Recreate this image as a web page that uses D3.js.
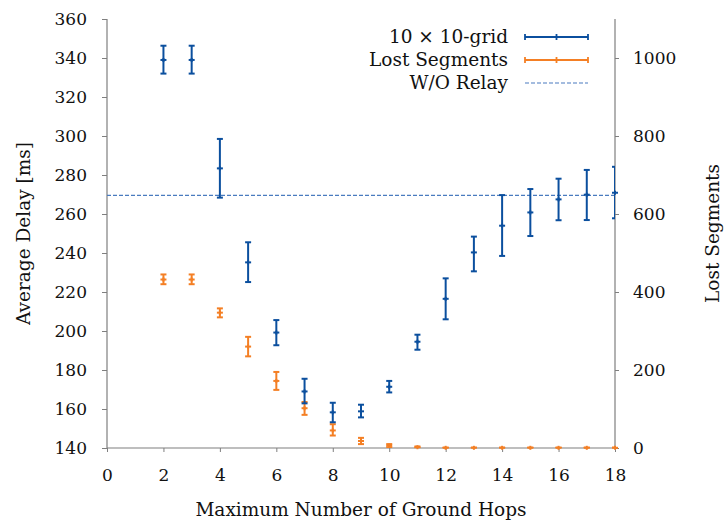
<!DOCTYPE html>
<html>
<head>
<meta charset="utf-8">
<script src="https://cdn.jsdelivr.net/npm/d3@7"></script>
<style>
  body { margin: 0; background: #fff; }
  text { font-family: "DejaVu Serif", "Liberation Serif", serif; fill: #111; }
</style>
</head>
<body>
<div id="chart"></div>
<script>
// hops on the x axis
var hops = [2, 3, 4, 5, 6, 7, 8, 9, 10, 11, 12, 13, 14, 15, 16, 17, 18];

// average delay [ms] of the 10x10 grid (mean, lower, upper)
var delayMean = [339, 339, 283.4, 235.2, 199.2, 169, 158.3, 158.8, 171.4, 194.5, 216.5, 240.3, 254, 260.8, 267.5, 269.9, 270.9];
var delayLow  = [332, 332, 268.4, 225.1, 192.7, 162.9, 153.2, 155.7, 168.5, 190.4, 206, 230.6, 238.5, 248.7, 256.8, 256.9, 257.8];
var delayHigh = [346.3, 346.3, 298.5, 245.5, 205.6, 175.5, 163.2, 162.2, 174.4, 198.1, 227, 248.4, 269.7, 272.8, 278.1, 282.6, 284.2];

// lost segments (mean, lower, upper)
var lostMean = [432, 432, 347, 260, 172, 102, 45, 18, 6, 2, 0.5, 0.5, 0.5, 0.5, 0.5, 0.5, 0.5];
var lostLow  = [420, 420, 335, 235, 149, 85, 32, 10, 2, 0, 0, 0, 0, 0, 0, 0, 0];
var lostHigh = [445, 445, 358, 285, 195, 118, 61, 26, 10, 4, 1, 1, 1, 1, 1, 1, 1];

// delay without relay
var noRelayDelay = 269.6;

var xTicks = [0, 2, 4, 6, 8, 10, 12, 14, 16, 18];
var leftTicks = [140, 160, 180, 200, 220, 240, 260, 280, 300, 320, 340, 360];
var rightTicks = [0, 200, 400, 600, 800, 1000];

var legendLabels = ["10 \u00d7 10-grid", "Lost Segments", "W/O Relay"];

var blue = "#0b4f9e";
var orange = "#f47f24";
var dashBlue = "#4a7bbf";
var axisGray = "#7f7f7f";
var tickSize = "17px";
var labelSize = "18.5px";

var W = 725, H = 520;
var margin = {top: 19, right: 110, bottom: 72, left: 107};
var width = W - margin.left - margin.right;
var height = H - margin.top - margin.bottom;

var svg = d3.select("#chart").append("svg")
  .attr("width", W)
  .attr("height", H);

var g = svg.append("g")
  .attr("transform", "translate(" + margin.left + "," + margin.top + ")");

var x = d3.scaleLinear().domain([0, 18]).range([0, width]);
var yL = d3.scaleLinear().domain([140, 360]).range([height, 0]);
var yR = d3.scaleLinear().domain([0, 1100]).range([height, 0]);

g.append("clipPath").attr("id", "clip")
  .append("rect").attr("width", width).attr("height", height + 2).attr("y", -2);

// axes
var xAxis = g.append("g")
  .attr("transform", "translate(0," + height + ")")
  .call(d3.axisBottom(x).tickValues(xTicks).tickSize(4).tickPadding(17));

var leftAxis = g.append("g")
  .call(d3.axisLeft(yL).tickValues(leftTicks).tickSize(5).tickPadding(15));

var rightAxis = g.append("g")
  .attr("transform", "translate(" + width + ",0)")
  .call(d3.axisRight(yR).tickValues(rightTicks).tickFormat(d3.format("d")).tickSize(4).tickPadding(14));

[xAxis, leftAxis, rightAxis].forEach(function(a) {
  a.attr("font-family", null);
  a.select(".domain").attr("stroke", axisGray).attr("stroke-width", 1.2);
  a.selectAll(".tick line").attr("stroke", axisGray).attr("stroke-width", 1);
  a.selectAll("text").style("font-size", tickSize).attr("fill", "#111");
});
// y domain lines without the d3 end caps
leftAxis.select(".domain").attr("d", "M0,0V" + height);
rightAxis.select(".domain").attr("d", "M0,0V" + height);
xAxis.select(".domain").attr("d", "M0,0H" + width);

// axis labels
svg.append("text")
  .attr("x", margin.left + width / 2)
  .attr("y", 516)
  .attr("text-anchor", "middle")
  .style("font-size", labelSize)
  .text("Maximum Number of Ground Hops");

svg.append("text")
  .attr("transform", "translate(30," + (margin.top + height / 2) + ") rotate(-90)")
  .attr("text-anchor", "middle")
  .style("font-size", labelSize)
  .text("Average Delay [ms]");

svg.append("text")
  .attr("transform", "translate(719," + (margin.top + height / 2) + ") rotate(-90)")
  .attr("text-anchor", "middle")
  .style("font-size", labelSize)
  .text("Lost Segments");

// without relay reference line
g.append("line")
  .attr("x1", 0).attr("x2", width)
  .attr("y1", yL(noRelayDelay)).attr("y2", yL(noRelayDelay))
  .attr("stroke", dashBlue).attr("stroke-width", 1.2)
  .attr("stroke-dasharray", "4,2");

function errorBars(mean, low, high, y, color) {
  var grp = g.append("g");
  var bars = grp.append("g").attr("clip-path", "url(#clip)");
  hops.forEach(function(h, i) {
    var cx = x(h);
    bars.append("line")
      .attr("x1", cx).attr("x2", cx)
      .attr("y1", y(low[i])).attr("y2", y(high[i]))
      .attr("stroke", color).attr("stroke-width", 2);
    [low[i], high[i]].forEach(function(v) {
      bars.append("line")
        .attr("x1", cx - 3).attr("x2", cx + 3)
        .attr("y1", y(v)).attr("y2", y(v))
        .attr("stroke", color).attr("stroke-width", 2);
    });
    // mean marker
    grp.append("line")
      .attr("x1", cx - 3).attr("x2", cx + 3)
      .attr("y1", y(mean[i])).attr("y2", y(mean[i]))
      .attr("stroke", color).attr("stroke-width", 2);
    grp.append("line")
      .attr("x1", cx).attr("x2", cx)
      .attr("y1", y(mean[i]) - 2).attr("y2", y(mean[i]) + 2)
      .attr("stroke", color).attr("stroke-width", 2);
  });
}

errorBars(lostMean, lostLow, lostHigh, yR, orange);
errorBars(delayMean, delayLow, delayHigh, yL, blue);

// legend
var legend = svg.append("g");
var legendColors = [blue, orange, dashBlue];
legendLabels.forEach(function(lab, i) {
  var ly = 37 + i * 23;
  legend.append("text")
    .attr("x", 508).attr("y", ly + 6)
    .attr("text-anchor", "end")
    .style("font-size", labelSize)
    .text(lab);
  if (i < 2) {
    legend.append("line")
      .attr("x1", 525).attr("x2", 588).attr("y1", ly).attr("y2", ly)
      .attr("stroke", legendColors[i]).attr("stroke-width", 1.8);
    [525, 556.5, 588].forEach(function(lx) {
      legend.append("line")
        .attr("x1", lx).attr("x2", lx).attr("y1", ly - 3).attr("y2", ly + 3)
        .attr("stroke", legendColors[i]).attr("stroke-width", 1.8);
    });
  } else {
    legend.append("line")
      .attr("x1", 525).attr("x2", 588).attr("y1", ly).attr("y2", ly)
      .attr("stroke", dashBlue).attr("stroke-width", 1.2)
      .attr("stroke-dasharray", "4,2");
  }
});
</script>
</body>
</html>
